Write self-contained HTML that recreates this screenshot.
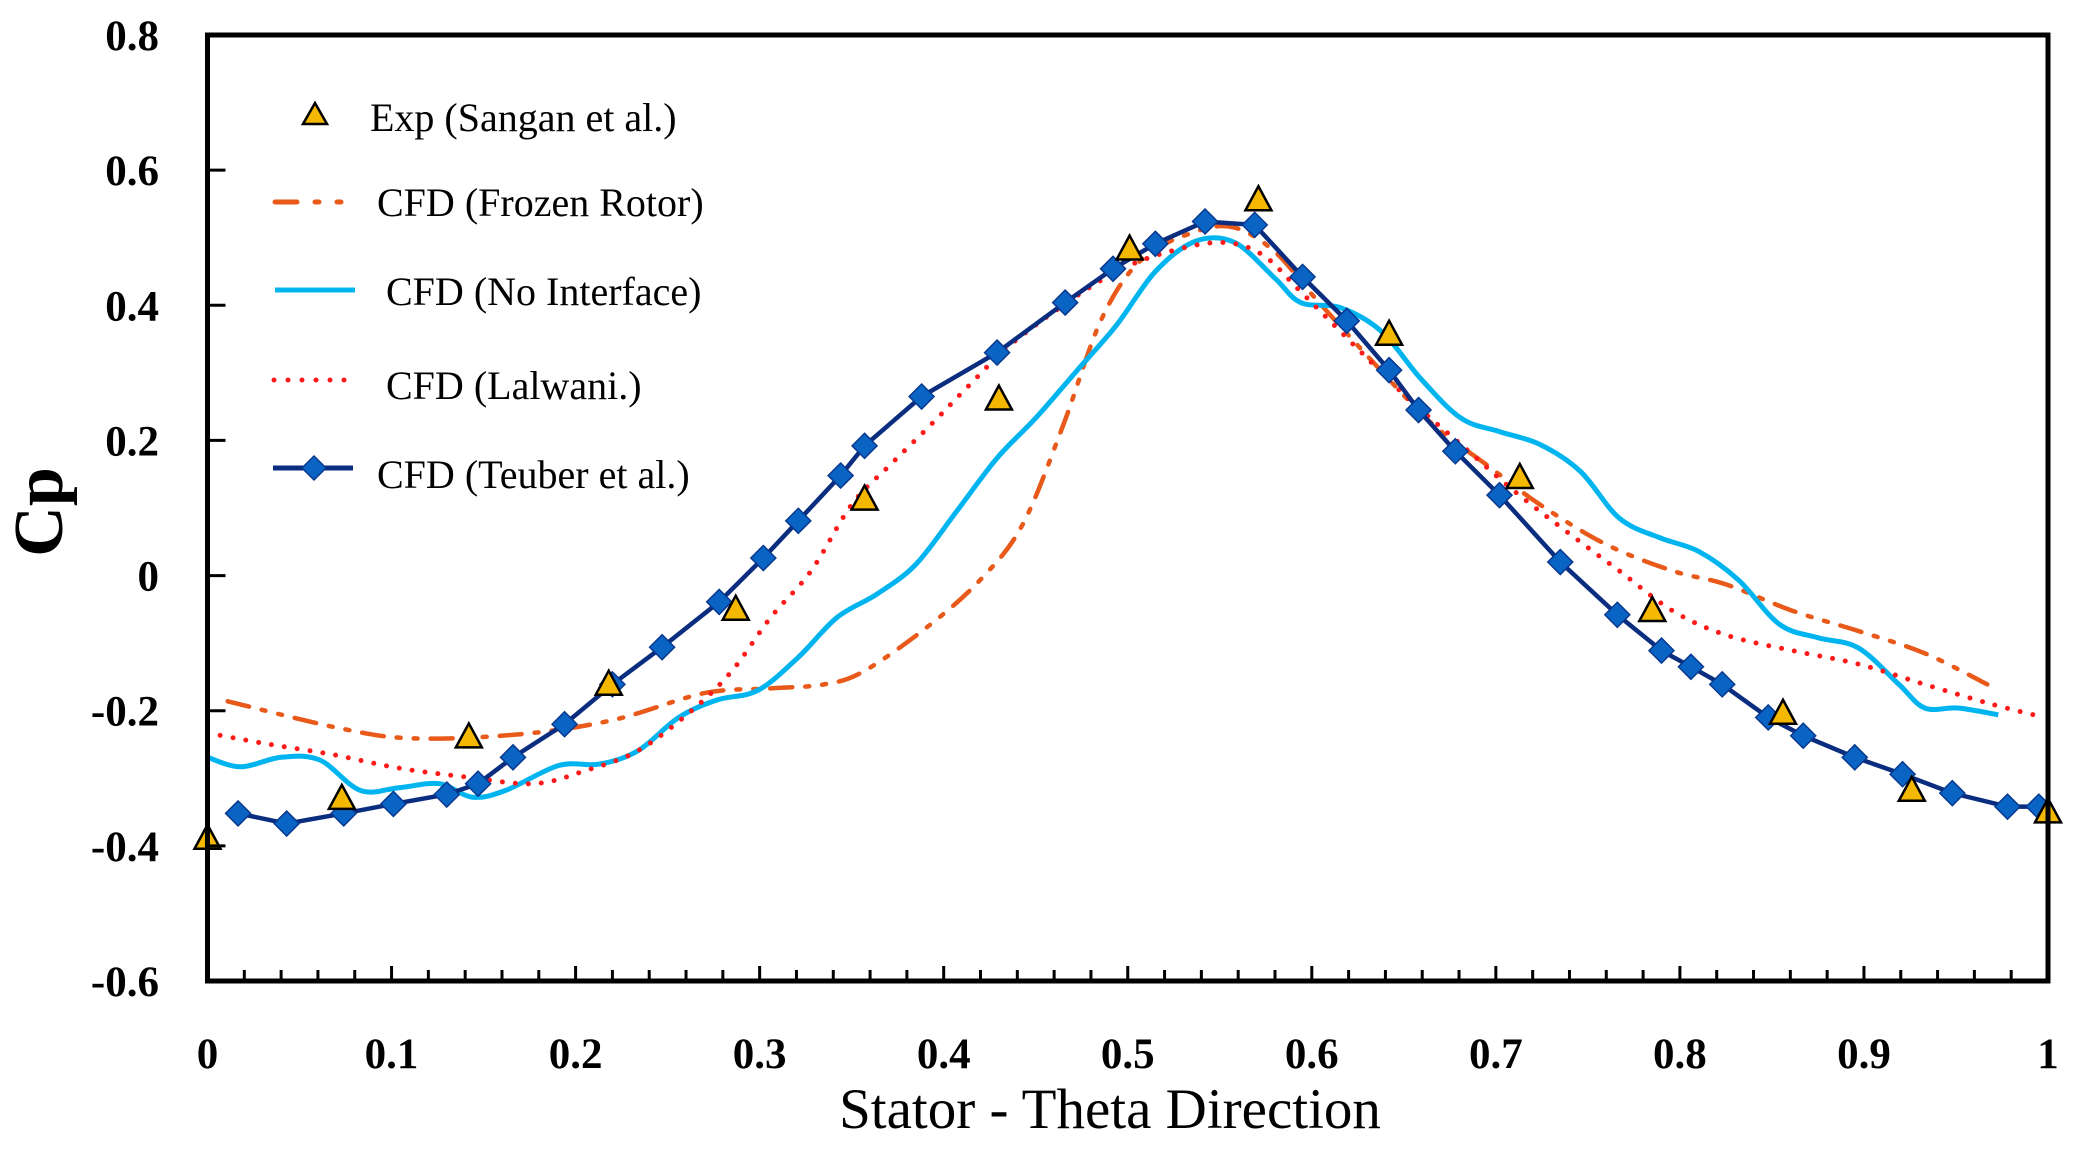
<!DOCTYPE html>
<html><head><meta charset="utf-8"><style>
html,body{margin:0;padding:0;background:#fff;}
svg{display:block;}
text{font-family:"Liberation Serif",serif;fill:#000;}
</style></head><body>
<svg id="chart" width="2083" height="1157" viewBox="0 0 2083 1157">
<g id="series"></g>
<g id="axes"></g>
<g id="legend"></g>
</svg>
<script>
const xTicks=[0,0.1,0.2,0.3,0.4,0.5,0.6,0.7,0.8,0.9,1];
const xTickLabels=["0","0.1","0.2","0.3","0.4","0.5","0.6","0.7","0.8","0.9","1"];
const yTicks=[0.8,0.6,0.4,0.2,0,-0.2,-0.4,-0.6];
const yTickLabels=["0.8","0.6","0.4","0.2","0","-0.2","-0.4","-0.6"];

const expX=[0,0.073,0.142,0.218,0.287,0.357,0.430,0.501,0.571,0.642,0.713,0.785,0.856,0.926,1.0];
const expY=[-0.391,-0.332,-0.241,-0.163,-0.052,0.111,0.259,0.481,0.554,0.355,0.143,-0.054,-0.206,-0.320,-0.352];

const teuberX=[0.0166,0.043,0.074,0.101,0.130,0.147,0.166,0.194,0.220,0.247,0.278,0.302,0.321,0.344,0.357,0.388,0.429,0.466,0.492,0.515,0.542,0.569,0.595,0.619,0.642,0.658,0.678,0.702,0.735,0.766,0.790,0.806,0.823,0.848,0.867,0.895,0.921,0.948,0.978,0.995];
const teuberY=[-0.352,-0.367,-0.352,-0.338,-0.324,-0.308,-0.269,-0.220,-0.161,-0.106,-0.039,0.026,0.081,0.148,0.192,0.265,0.330,0.404,0.454,0.491,0.524,0.519,0.442,0.377,0.304,0.245,0.184,0.119,0.020,-0.058,-0.111,-0.135,-0.161,-0.210,-0.237,-0.269,-0.294,-0.322,-0.342,-0.342];

const frozenX=[0.011,0.072,0.112,0.169,0.220,0.270,0.306,0.335,0.357,0.393,0.421,0.443,0.465,0.486,0.508,0.537,0.558,0.580,0.602,0.638,0.666,0.695,0.724,0.760,0.796,0.825,0.861,0.897,0.933,0.967];
const frozenY=[-0.186,-0.226,-0.241,-0.235,-0.214,-0.174,-0.167,-0.161,-0.141,-0.072,-0.003,0.076,0.223,0.381,0.469,0.509,0.515,0.479,0.410,0.302,0.223,0.164,0.105,0.046,0.007,-0.013,-0.052,-0.082,-0.115,-0.161];

const noIfX=[0,0.018,0.040,0.061,0.083,0.104,0.126,0.144,0.162,0.191,0.213,0.234,0.256,0.277,0.299,0.321,0.342,0.364,0.385,0.407,0.429,0.450,0.472,0.494,0.515,0.537,0.558,0.580,0.594,0.616,0.638,0.659,0.681,0.702,0.724,0.746,0.767,0.789,0.810,0.832,0.854,0.875,0.897,0.919,0.933,0.951,0.973];
const noIfY=[-0.269,-0.283,-0.269,-0.273,-0.318,-0.314,-0.308,-0.328,-0.318,-0.281,-0.279,-0.259,-0.210,-0.184,-0.170,-0.121,-0.062,-0.027,0.017,0.095,0.174,0.233,0.302,0.371,0.450,0.495,0.493,0.440,0.404,0.396,0.361,0.292,0.233,0.213,0.194,0.154,0.085,0.056,0.036,-0.007,-0.072,-0.092,-0.107,-0.161,-0.196,-0.196,-0.206];

const lalX=[0,0.032,0.068,0.104,0.140,0.177,0.205,0.234,0.263,0.285,0.306,0.328,0.350,0.371,0.393,0.414,0.436,0.465,0.494,0.522,0.551,0.573,0.594,0.623,0.652,0.681,0.710,0.738,0.767,0.796,0.825,0.861,0.897,0.933,0.969,0.998];
const lalY=[-0.233,-0.249,-0.265,-0.285,-0.298,-0.308,-0.289,-0.259,-0.200,-0.141,-0.062,0.007,0.105,0.164,0.223,0.282,0.341,0.400,0.450,0.479,0.493,0.475,0.420,0.341,0.263,0.194,0.125,0.066,0.007,-0.052,-0.088,-0.111,-0.131,-0.161,-0.190,-0.210];

const NS="http://www.w3.org/2000/svg";
const X0=207.5,X1=2048,YT=35,YB=981,VMIN=-0.6,VMAX=0.8;
function sx(v){return X0+(v-0)*(X1-X0);}
function sy(v){return YB-(v-VMIN)/(VMAX-VMIN)*(YB-YT);}
function mk(tag,attrs,parent){const e=document.createElementNS(NS,tag);for(const k in attrs)e.setAttribute(k,attrs[k]);parent.appendChild(e);return e;}
function smooth(xs,ys){
  const p=xs.map((x,i)=>[sx(x),sy(ys[i])]);
  let d="M"+p[0][0].toFixed(1)+","+p[0][1].toFixed(1);
  for(let i=0;i<p.length-1;i++){
    const a=p[Math.max(0,i-1)],b=p[i],c=p[i+1],e=p[Math.min(p.length-1,i+2)];
    const c1=[b[0]+(c[0]-a[0])/6,b[1]+(c[1]-a[1])/6],c2=[c[0]-(e[0]-b[0])/6,c[1]-(e[1]-b[1])/6];
    d+=" C"+c1.map(v=>v.toFixed(1))+" "+c2.map(v=>v.toFixed(1))+" "+c[0].toFixed(1)+","+c[1].toFixed(1);
  }
  return d;
}
const S=document.getElementById('series'),A=document.getElementById('axes'),L=document.getElementById('legend');

let el;
el=mk('path',{d:smooth(frozenX,frozenY),fill:'none',stroke:'#e8591a','stroke-width':4.5,'stroke-dasharray':'22 13 4 13 4 13','stroke-linecap':'round'},S);


el=mk('path',{d:smooth(noIfX,noIfY),fill:'none',stroke:'#00b4f0','stroke-width':5},S);


el=mk('path',{d:smooth(lalX,lalY),fill:'none',stroke:'#ff1a1a','stroke-width':5,'stroke-dasharray':'0 13','stroke-linecap':'round'},S);


el=mk('polyline',{points:teuberX.map((x,i)=>sx(x)+","+sy(teuberY[i])).join(" "),fill:'none',stroke:'#0a2d80','stroke-width':4.5},S);


teuberX.forEach((x,i)=>{const cx=sx(x),cy=sy(teuberY[i]),r=12.5;
  const m=mk('polygon',{points:`${cx},${cy-r} ${cx+r},${cy} ${cx},${cy+r} ${cx-r},${cy}`,fill:'#0a64c4',stroke:'#08398f','stroke-width':1.5},S);
  
  
});
expX.forEach((x,i)=>{const cx=sx(x),cy=sy(expY[i]);
  const m=mk('polygon',{points:`${cx},${cy-15} ${cx+13},${cy+9} ${cx-13},${cy+9}`,fill:'#f5b800',stroke:'#000','stroke-width':2.5,'stroke-linejoin':'miter'},S);
  
  
});

el=mk('rect',{x:X0,y:YT,width:X1-X0,height:YB-YT,fill:'none',stroke:'#000','stroke-width':5},A);


for(let k=0;k<=50;k++){const v=k*0.02,x=sx(v),len=(k%5===0)?15:11;
  mk('line',{x1:x,y1:YB,x2:x,y2:YB-len,stroke:'#000','stroke-width':3},A);}
yTicks.forEach(v=>{mk('line',{x1:X0,y1:sy(v),x2:X0+18,y2:sy(v),stroke:'#000','stroke-width':3},A);});
xTicks.forEach((v,i)=>{const t=mk('text',{x:sx(v),y:1068,'text-anchor':'middle','font-size':43,'font-weight':'bold'},A);t.textContent=xTickLabels[i];
  
  });
yTicks.forEach((v,i)=>{const t=mk('text',{x:159,y:sy(v)+15,'text-anchor':'end','font-size':43,'font-weight':'bold'},A);t.textContent=yTickLabels[i];
  
  });
el=mk('text',{x:1110,y:1128,'text-anchor':'middle','font-size':57},A);el.textContent='Stator - Theta Direction';


el=mk('text',{x:0,y:0,'text-anchor':'middle','font-size':70,'font-weight':'bold',transform:'translate(62,512) rotate(-90)'},A);el.textContent='Cp';



const legTexts=["Exp (Sangan et al.)","CFD (Frozen Rotor)","CFD (No Interface)","CFD (Lalwani.)","CFD (Teuber et al.)"];
const legY=[118,203,292,386,475];
const legTX=[370,377,386,386,377];
mk('polygon',{points:`315,103 327,124 303,124`,fill:'#f5b800',stroke:'#000','stroke-width':2.5},L);
mk('line',{x1:275,y1:202,x2:350,y2:202,stroke:'#e8591a','stroke-width':5,'stroke-dasharray':'22 18 4 18 4 30','stroke-linecap':'round'},L);
mk('line',{x1:275,y1:290,x2:355,y2:290,stroke:'#00b4f0','stroke-width':5},L);
mk('line',{x1:274,y1:380,x2:348,y2:380,stroke:'#ff1a1a','stroke-width':5,'stroke-dasharray':'0 14','stroke-linecap':'round'},L);
mk('line',{x1:273,y1:468,x2:353,y2:468,stroke:'#0a2d80','stroke-width':5},L);
mk('polygon',{points:'314,456 326,468 314,480 302,468',fill:'#0a64c4',stroke:'#08398f','stroke-width':1.5},L);
legTexts.forEach((s,i)=>{const t=mk('text',{x:legTX[i],y:legY[i]+13,'font-size':40},L);t.textContent=s;
  
  });
</script>
</body></html>
